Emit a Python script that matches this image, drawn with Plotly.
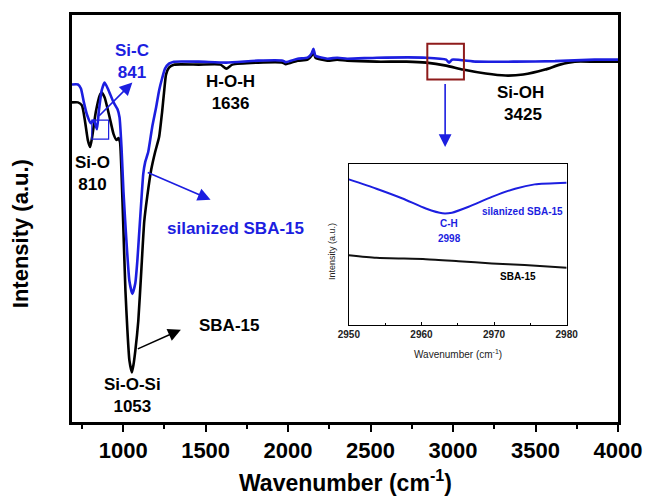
import plotly.graph_objects as go

# ---------------- data ----------------
sba_wn = [690, 726, 750, 768, 786, 800, 812, 834, 858, 870, 888, 918, 942, 960, 972, 981,
          990, 1002, 1014, 1026, 1038, 1053, 1062, 1074, 1092, 1110, 1128, 1146, 1170, 1194,
          1218, 1236, 1248, 1260, 1278, 1308, 1458, 1590, 1626, 1662, 1818, 1968, 1986, 2058,
          2118, 2142, 2154, 2166, 2238, 2298, 2358, 2538, 2718, 2838, 2958, 3060, 3198, 3318,
          3425, 3558, 3648, 3738, 3858, 4000]
sba_int = [322, 322, 319, 304, 284, 277, 287, 312, 329, 332, 327, 307, 290, 284, 286, 282,
           252, 192, 132, 92, 62, 50, 57, 72, 102, 152, 202, 227, 254, 272,
           287, 312, 332, 350, 357, 360, 360, 360, 356, 360, 362, 362, 360.5, 364,
           365, 369, 373, 367, 364, 365, 364, 363, 363, 362, 359, 355, 351, 349,
           350, 355, 360, 363, 363, 363]

sil_wn = [690, 726, 744, 762, 780, 804, 822, 841, 852, 870, 888, 912, 942, 966, 978,
          990, 1002, 1020, 1038, 1056, 1074, 1086, 1098, 1110, 1122, 1134, 1152, 1176, 1200,
          1218, 1236, 1254, 1278, 1308, 1458, 1626, 1818, 1968, 1986, 2058, 2118, 2142, 2154,
          2166, 2238, 2298, 2358, 2538, 2838, 2958, 2976, 2994, 3138, 3378, 3618, 3858, 4000]
sil_int = [340, 340, 336, 322, 310, 301, 304, 295, 312, 334, 342, 334, 322, 315, 307,
           277, 232, 182, 142, 129, 140, 162, 192, 222, 250, 262, 272, 297, 317,
           334, 346, 356, 361, 363, 363, 362, 364, 364, 362.5, 366, 367, 371, 376,
           369, 366, 367, 366, 367, 367, 365, 362, 365, 363, 363, 363.5, 365, 365]

inset_sil_wn = [2950, 2953.8, 2957.4, 2960.6, 2962.9, 2964.2, 2966.5, 2969.7, 2972.9, 2975.6, 2980]
inset_sil_int = [0.904, 0.846, 0.785, 0.723, 0.693, 0.697, 0.734, 0.795, 0.846, 0.873, 0.883]
inset_sba_wn = [2950, 2953.8, 2960.6, 2965.1, 2969.7, 2974.2, 2980]
inset_sba_int = [0.432, 0.416, 0.408, 0.395, 0.381, 0.371, 0.355]

main_ticks = [1000, 1500, 2000, 2500, 3000, 3500, 4000]
inset_ticks = [2950, 2960, 2970, 2980]

BLUE = "#1c1ee0"
BLACK = "#000000"
RED = "#8e1b1b"
FONT = "Liberation Sans, Arial, sans-serif"

fig = go.Figure()
fig.add_trace(go.Scatter(x=sba_wn, y=sba_int, mode="lines",
                         line=dict(color=BLACK, width=2.6, shape="spline", smoothing=0.5),
                         showlegend=False))
fig.add_trace(go.Scatter(x=sil_wn, y=sil_int, mode="lines",
                         line=dict(color=BLUE, width=2.6, shape="spline", smoothing=0.5),
                         showlegend=False))
fig.add_trace(go.Scatter(x=inset_sba_wn, y=inset_sba_int, mode="lines", xaxis="x2", yaxis="y2",
                         line=dict(color="#111111", width=2, shape="spline", smoothing=0.6),
                         showlegend=False))
fig.add_trace(go.Scatter(x=inset_sil_wn, y=inset_sil_int, mode="lines", xaxis="x2", yaxis="y2",
                         line=dict(color=BLUE, width=2, shape="spline", smoothing=0.6),
                         showlegend=False))

fig.update_layout(
    width=654, height=504,
    margin=dict(l=72, r=30, t=12, b=82),
    paper_bgcolor="white", plot_bgcolor="white",
    font=dict(family=FONT, color="black"),
    xaxis=dict(range=[690, 4000], domain=[0, 1], tickvals=main_ticks,
               showline=True, linecolor="black", linewidth=2.5, mirror=True,
               ticks="outside", ticklen=7, tickwidth=2, tickcolor="black",
               minor=dict(tickvals=[750, 1250, 1750, 2250, 2750, 3250, 3750],
                          ticks="outside", ticklen=4, tickwidth=2, tickcolor="black"),
               showgrid=False, zeroline=False,
               tickfont=dict(size=22, family=FONT, weight="bold", color="black")),
    yaxis=dict(range=[0, 410], domain=[0, 1], showline=True, linecolor="black", linewidth=2.5,
               mirror=True, ticks="", showticklabels=False, showgrid=False, zeroline=False),
    xaxis2=dict(range=[2950, 2980], domain=[0.507, 0.906], anchor="y2", tickvals=inset_ticks,
                showline=True, linecolor="black", linewidth=1.2, mirror=True,
                ticks="inside", ticklen=3, tickwidth=1, tickcolor="black",
                minor=dict(tickvals=[2955, 2965, 2975], ticks="inside", ticklen=2, tickcolor="black"),
                showgrid=False, zeroline=False,
                tickfont=dict(size=10, family=FONT, weight="bold", color="#222222")),
    yaxis2=dict(range=[0, 1], domain=[0.239, 0.634], anchor="x2", showline=True,
                linecolor="black", linewidth=1.2, mirror=True, ticks="",
                showticklabels=False, showgrid=False, zeroline=False),
)

annotations = []

def txt(x, y, text, size=17, color=BLACK, xref="x", yref="y", angle=0, weight="bold"):
    annotations.append(dict(x=x, y=y, xref=xref, yref=yref, text=text, showarrow=False,
                            textangle=angle, xanchor="center", yanchor="middle",
                            font=dict(size=size, color=color, family=FONT, weight=weight)))

def arrow(x0, y0, x1, y1, color, width=1.6, xref="x", yref="y"):
    annotations.append(dict(x=x1, y=y1, ax=x0, ay=y0, xref=xref, yref=yref,
                            axref=xref, ayref=yref, text="", showarrow=True,
                            arrowhead=2, arrowsize=1.6, arrowwidth=width, arrowcolor=color))

# main labels
txt(1056, 363.5, "Si-C<br>841", color=BLUE)
txt(816, 250, "Si-O<br>810")
txt(1650, 331.5, "H-O-H<br>1636")
txt(1680, 195, "silanized SBA-15", color=BLUE)
txt(1644, 97, "SBA-15")
txt(1056, 26.5, "Si-O-Si<br>1053")
txt(3408, 321, "Si-OH<br> 3425")

# arrows
arrow(846, 307, 1056, 342, BLUE)
arrow(1140, 252, 1530, 224, BLUE)
arrow(1080, 73, 1350, 93, BLACK)
arrow(2952, 342, 2952, 277, BLUE)

# axis titles
txt(0.5, -0.146, "Wavenumber (cm<sup>-1</sup>)", size=23, xref="paper", yref="paper")
txt(-0.094, 0.463, "Intensity (a.u.)", size=22, xref="paper", yref="paper", angle=-90)

# inset labels
txt(2973.9, 0.704, "silanized SBA-15", size=10, color=BLUE, xref="x2", yref="y2")
txt(2963.8, 0.63, "C-H", size=10, color=BLUE, xref="x2", yref="y2")
txt(2963.8, 0.537, "2998", size=10, color=BLUE, xref="x2", yref="y2")
txt(2973.3, 0.302, "SBA-15", size=10, xref="x2", yref="y2")
txt(0.7065, 0.168, "Wavenumber (cm<sup>-1</sup>)", size=10, color="#222222",
    xref="paper", yref="paper", weight="normal")
txt(0.476, 0.42, "Intensity (a.u.)", size=9, color="#222222", xref="paper", yref="paper",
    angle=-90, weight="normal")

fig.update_layout(annotations=annotations)

# rectangles
fig.add_shape(type="rect", x0=810, x1=912, y0=285, y1=304, xref="x", yref="y",
              line=dict(color=BLUE, width=1.2))
fig.add_shape(type="rect", x0=2844, x1=3066, y0=345, y1=381, xref="x", yref="y",
              line=dict(color=RED, width=2))

fig.write_html("out.html")
